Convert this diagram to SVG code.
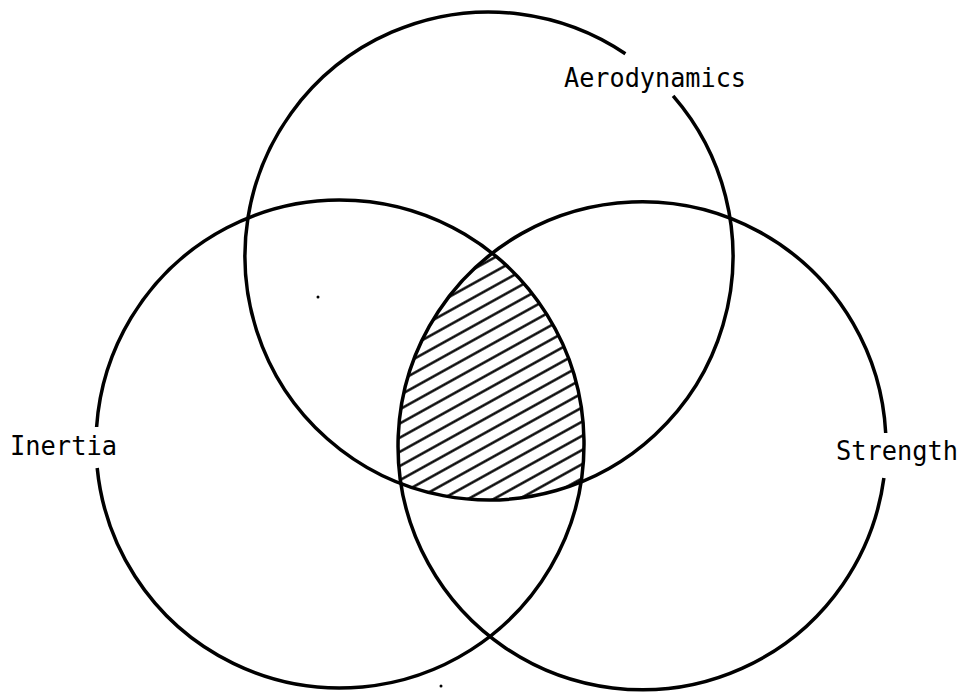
<svg xmlns="http://www.w3.org/2000/svg" width="976" height="692" viewBox="0 0 976 692">
<style>
.ring{fill:none;stroke:#000;stroke-width:3.5}
.lbl{font-family:"DejaVu Sans Mono","Liberation Mono",monospace;font-size:26px;fill:#000}
.hatch{stroke:#000;stroke-width:2.5}
</style>
<defs>
<pattern id="hp" patternUnits="userSpaceOnUse" width="40" height="12.4" patternTransform="rotate(-29)">
<line class="hatch" x1="0" y1="6.2" x2="40" y2="6.2"/>
</pattern>
<clipPath id="lensClip">
<circle cx="489" cy="256" r="244"/>
</clipPath>
<clipPath id="lensClip2">
<circle cx="340" cy="444" r="244"/>
</clipPath>
</defs>
<rect width="976" height="692" fill="#fff"/>
<g id="lens" clip-path="url(#lensClip)">
<g clip-path="url(#lensClip2)">
<circle cx="642" cy="446" r="244" fill="url(#hp)"/>
</g>
</g>
<g id="aerodynamics">
<path class="ring" d="M673.1,95.9 A244,244 0 1 1 625.4,53.7"/>
<text class="lbl" x="564" y="87" textLength="182" lengthAdjust="spacingAndGlyphs">Aerodynamics</text>
</g>
<g id="inertia">
<path class="ring" d="M96.6,427 A244,244 0 1 1 97.2,468"/>
<text class="lbl" x="10" y="455" textLength="107" lengthAdjust="spacingAndGlyphs">Inertia</text>
</g>
<g id="strength">
<path class="ring" d="M883.9,478 A244,244 0 1 1 885.7,433"/>
<text class="lbl" x="836" y="460" textLength="122" lengthAdjust="spacingAndGlyphs">Strength</text>
</g>
<g id="connectors"/>
<circle cx="318" cy="297" r="1.5" fill="#000"/>
<circle cx="441" cy="686" r="1.5" fill="#000"/>
</svg>
